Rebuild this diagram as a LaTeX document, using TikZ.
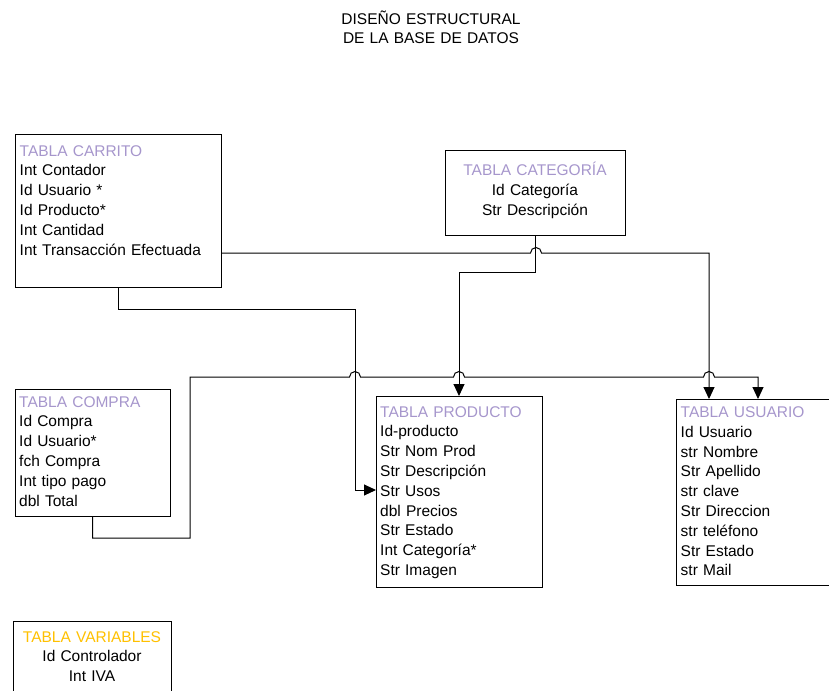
\documentclass[tikz,border=0pt]{standalone}
\usepackage{fontspec}
\setmainfont{Liberation Sans}
\usetikzlibrary{arrows.meta}
\definecolor{cabecera}{RGB}{166,150,204}
\definecolor{naranja}{RGB}{255,192,0}
\tikzset{
	tabla/.style={draw,line width=1pt,inner sep=0,outer sep=0,anchor=north west},
	campos/.style={anchor=base west,inner sep=0,align=left,text width=200pt,font=\fontsize{15.5}{19.8}\selectfont},
	centrado/.style={anchor=base,inner sep=0,align=center,font=\fontsize{15.5}{19.8}\selectfont},
	enlace/.style={line width=1pt},
	flecha/.style={line width=1pt,-{Triangle[length=12pt,width=11pt]}}
}
\begin{document}
\begin{tikzpicture}[x=1pt,y=-1pt]
	\useasboundingbox (0,0) rectangle (829,690);
	\node[centrado,text width=300pt,font=\fontsize{15.5}{18.5}\selectfont] (titulo) at (431,25) {DISEÑO ESTRUCTURAL\\DE LA BASE DE DATOS};
	\node[tabla,minimum width=206,minimum height=153] (carrito) at (15,134) {};
	\node[tabla,minimum width=180,minimum height=85] (categoria) at (445,150) {};
	\node[tabla,minimum width=155,minimum height=127] (compra) at (15,389) {};
	\node[tabla,minimum width=166,minimum height=191] (producto) at (376,396) {};
	\node[tabla,minimum width=164,minimum height=186] (usuario) at (676,399) {};
	\node[tabla,minimum width=158,minimum height=80] (variables) at (13,621) {};
	\node[campos] (carritotxt) at (19.5,156) {\textcolor{cabecera}{TABLA CARRITO}\\Int Contador\\Id Usuario *\\Id Producto*\\Int Cantidad\\Int Transacción Efectuada};
	\node[centrado,text width=180pt] (categoriatxt) at (535,175.5) {\textcolor{cabecera}{TABLA CATEGORÍA}\\Id Categoría\\Str Descripción};
	\node[campos] (compratxt) at (19,407) {\textcolor{cabecera}{TABLA COMPRA}\\Id Compra\\Id Usuario*\\fch Compra\\Int tipo pago\\dbl Total};
	\node[campos] (productotxt) at (380,417) {\textcolor{cabecera}{TABLA PRODUCTO}\\Id-producto\\Str Nom Prod\\Str Descripción\\Str Usos\\dbl Precios\\Str Estado\\Int Categoría*\\Str Imagen};
	\node[campos] (usuariotxt) at (680.5,417.5) {\textcolor{cabecera}{TABLA USUARIO}\\Id Usuario\\str Nombre\\Str Apellido\\str clave\\Str Direccion\\str teléfono\\Str Estado\\str Mail};
	\node[centrado,text width=158pt] (variablestxt) at (92,642) {\textcolor{naranja}{TABLA VARIABLES}\\Id Controlador\\Int IVA};
	\draw[flecha] (carrito.east |- 0,253) -- (530.5,253) arc[start angle=180,end angle=360,radius=5.5] -- (709,253) -- (usuario.north -| 709,0);
	\draw[flecha] (categoria.south) |- (459,272) -- (producto.north -| 459,0);
	\draw[flecha] (carrito.south) |- (355,309) -- (355,490) -- (producto.west |- 0,490);
	\draw[flecha] (compra.south) |- (190,538) -- (190,377) -- (349.5,377) arc[start angle=180,end angle=360,radius=5.5] -- (453.5,377) arc[start angle=180,end angle=360,radius=5.5] -- (703.5,377) arc[start angle=180,end angle=360,radius=5.5] -- (758,377) -- (usuario.north -| 758,0);
\end{tikzpicture}
\end{document}
